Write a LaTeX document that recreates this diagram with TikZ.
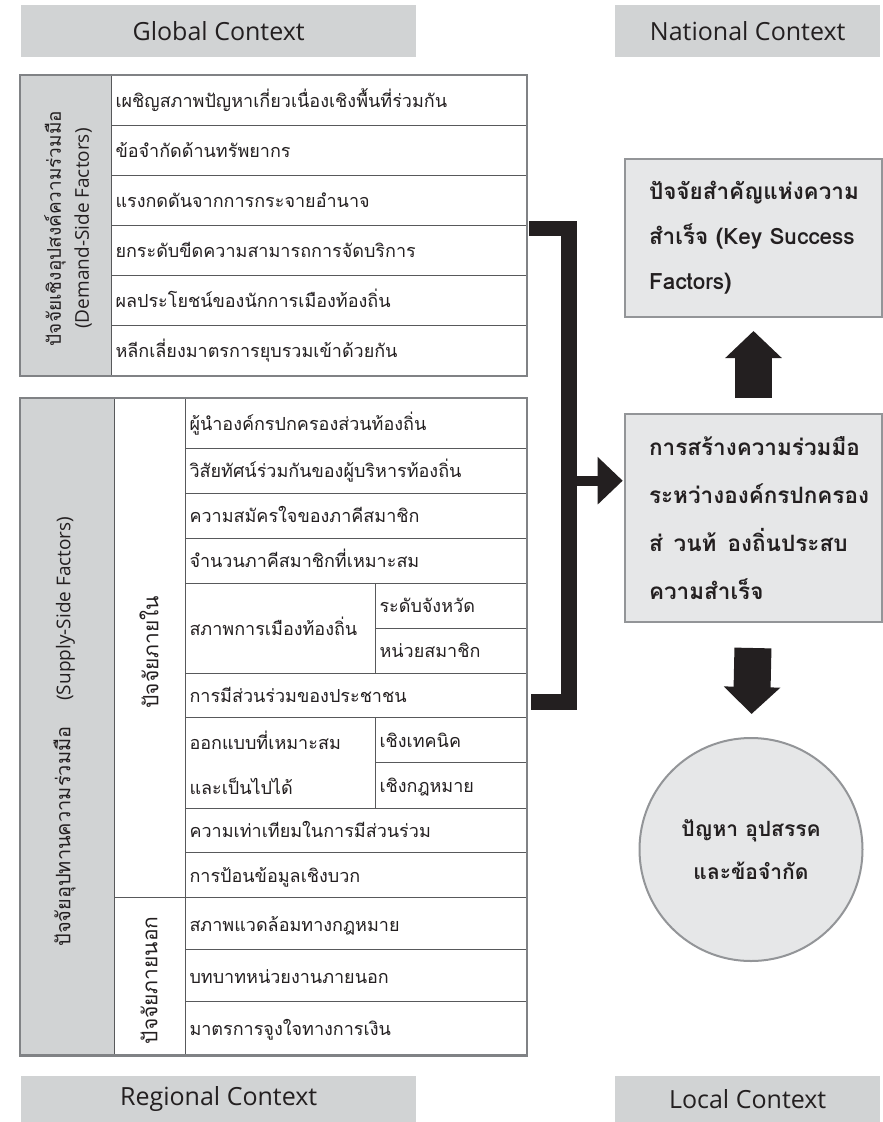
\documentclass[tikz,border=0pt]{standalone}
\usepackage{fontspec}
\setmainfont[Script=Thai]{Loma}
\newfontfamily\latinsans{Open Sans}
\usetikzlibrary{arrows.meta, calc}
\definecolor{ctxgray}{HTML}{D1D3D4}
\definecolor{boxgray}{HTML}{E6E7E8}
\definecolor{rimgray}{HTML}{939598}
\definecolor{framegray}{HTML}{808285}
\definecolor{rulegray}{HTML}{58595B}
\definecolor{ink}{HTML}{231F20}

\tikzset{
  ctxbox/.style={fill=ctxgray, anchor=north west, minimum width=#1, inner sep=0pt,
    text=ink, font=\latinsans\fontsize{25}{28}\selectfont},
  cell/.style={draw=rulegray, line width=1pt, fill=white, anchor=north west,
    inner xsep=4pt, inner ysep=0pt, align=left, text=ink,
    font=\fontsize{18}{20}\selectfont, text height=18pt, text depth=4pt},
  demrow/.style={cell, text width=407pt, minimum height=50pt},
  fullrow/.style={cell, text width=333pt, minimum height=#1},
  leftrow/.style={cell, text width=182pt, minimum height=#1},
  subrow/.style={cell, text width=143pt, minimum height=#1},
  sidecol/.style={draw=rulegray, line width=1pt, fill=#1, anchor=north west, inner sep=0pt},
  sidetext/.style={rotate=90, align=center, inner sep=0pt, text=ink},
  frame/.style={draw=framegray, line width=2.6pt},
  keybox/.style={draw=rimgray, line width=2pt, fill=boxgray, anchor=north west,
    text width=209pt, inner xsep=24pt, inner ysep=0pt, minimum height=#1, align=left, text=ink},
  bigarrow/.style={draw=ink, line width=37pt, -{Triangle[length=27pt, width=55pt]}},
  sidearrow/.style={draw=ink, line width=10pt, -{Triangle[length=25pt, width=46pt]}},
  bracket/.style={draw=ink, line width=15.5pt, line join=miter}
}

\begin{document}
\begin{tikzpicture}[x=1pt, y=-1pt]

\useasboundingbox (0,0) rectangle (883,1122);
\fill[white] (0,0) rectangle (883,1122);

% Context banners
\node[ctxbox=395pt, minimum height=52pt] (global) at (21,5) {Global Context};
\node[ctxbox=265pt, minimum height=52pt] (national) at (615,5) {National Context};
\node[ctxbox=395pt, minimum height=46pt] (regional) at (21,1076) {Regional Context};
\node[ctxbox=265pt, minimum height=46pt] (local) at (615,1076) {Local Context};

% === Demand side table ===
\node[sidecol=ctxgray, minimum width=91pt, minimum height=300pt] (dside) at (20,75) {};
\node[sidetext, font=\fontsize{19}{28}\selectfont] (dsidetxt) at ($(dside.center)+(2,3)$)
  {ปัจจัยเชิงอุปสงค์ความร่วมมือ\\{\latinsans\fontsize{19}{28}\selectfont(Demand-Side Factors)}};

\foreach \txt [count=\i] in {%
  เผชิญสภาพปัญหาเกี่ยวเนื่องเชิงพื้นที่ร่วมกัน,
  ข้อจำกัดด้านทรัพยากร,
  แรงกดดันจากการกระจายอำนาจ,
  ยกระดับขีดความสามารถการจัดบริการ,
  ผลประโยชน์ของนักการเมืองท้องถิ่น,
  หลีกเลี่ยงมาตรการยุบรวมเข้าด้วยกัน} {
  \node[demrow] (d\i) at (111,{75+50*(\i-1)}) {\txt};
}
\draw[frame] (dside.north west) rectangle (d6.south east);

% === Supply side table ===
\node[sidecol=ctxgray, minimum width=94pt, minimum height=656.3pt] (sside) at (20,398) {};
\node[sidecol=white, minimum width=71pt, minimum height=499.3pt] (inner) at (114,398) {};
\node[sidecol=white, minimum width=71pt, minimum height=157pt] (outer) at (114,897.3) {};
\node[sidetext, font=\fontsize{20}{22}\selectfont] (ssidetxt) at ($(sside.center)+(-3,5)$)
  {ปัจจัยอุปทานความร่วมมือ\hspace{26pt}{\latinsans\fontsize{19}{22}\selectfont(Supply-Side Factors)}};
\node[sidetext, font=\fontsize{21}{24}\selectfont] (innertxt) at ($(inner.center)+(-1,4)$) {ปัจจัยภายใน};
\node[sidetext, font=\fontsize{21}{24}\selectfont] (outertxt) at ($(outer.center)+(-1,4)$) {ปัจจัยภายนอก};

% internal factors
\foreach \y/\h/\txt [count=\i] in {%
  398/49.7/ผู้นำองค์กรปกครองส่วนท้องถิ่น,
  447.7/45/วิสัยทัศน์ร่วมกันของผู้บริหารท้องถิ่น,
  492.7/45/ความสมัครใจของภาคีสมาชิก,
  537.7/45/จำนวนภาคีสมาชิกที่เหมาะสม} {
  \node[fullrow={\h pt}] (s\i) at (185,\y) {\txt};
}
\node[leftrow=90pt] (s5) at (185,582.7) {สภาพการเมืองท้องถิ่น};
\node[subrow=45pt] (s5a) at (375,582.7) {ระดับจังหวัด};
\node[subrow=45pt] (s5b) at (375,627.7) {หน่วยสมาชิก};
\node[fullrow=44.3pt] (s6) at (185,672.7) {การมีส่วนร่วมของประชาชน};
\node[leftrow=90.7pt, text height=, text depth=, font=\fontsize{18}{45}\selectfont] (s7) at (185,717)
  {ออกแบบที่เหมาะสม\\และเป็นไปได้};
\node[subrow=45.3pt] (s7a) at (375,717) {เชิงเทคนิค};
\node[subrow=45.4pt] (s7b) at (375,762.3) {เชิงกฎหมาย};
\node[fullrow=44.6pt] (s8) at (185,807.7) {ความเท่าเทียมในการมีส่วนร่วม};
\node[fullrow=45pt] (s9) at (185,852.3) {การป้อนข้อมูลเชิงบวก};

% external factors
\foreach \y/\txt [count=\i] in {%
  897.3/สภาพแวดล้อมทางกฎหมาย,
  949.3/บทบาทหน่วยงานภายนอก,
  1001.3/มาตรการจูงใจทางการเงิน} {
  \node[fullrow=53pt] (e\i) at (185,\y) {\txt};
}
\draw[frame] (sside.north west) rectangle (e3.south east);

% === Right hand column ===
\node[keybox=158pt, font=\bfseries\fontsize{22.5}{45}\selectfont] (ksf) at (624,158)
  {ปัจจัยสำคัญแห่งความ\\สำเร็จ (Key Success\\Factors)};
\node[keybox=208pt, font=\bfseries\fontsize{22.5}{48}\selectfont] (mid) at (624,413)
  {การสร้างความร่วมมือ\\ระหว่างองค์กรปกครอง\\ส่\hspace{11pt}วนท้\hspace{11pt}องถิ่นประสบ\\ความสำเร็จ};
\node[circle, draw=rimgray, line width=2pt, fill=boxgray, minimum size=223pt,
      align=center, text=ink, font=\bfseries\fontsize{21}{43}\selectfont] (trouble)
  at (751,849.5) {ปัญหา อุปสรรค\\และข้อจำกัด};

% --- Bracket joining the factors ---
\coordinate (brtop) at (529,228.5);
\coordinate (brbot) at (531,702);
\coordinate (join) at (569,480.7);
\draw[bracket] (brtop) -- (569,228.5) -- (569,702) -- (brbot);
\draw[sidearrow, shorten >=1.3pt] (join) -- (join -| mid.west);

% --- Arrows to the outcome boxes ---
\draw[bigarrow, shorten <=15pt, shorten >=13pt] (mid.north) -- (ksf.south);
\draw[bigarrow, shorten <=25pt, shorten >=23pt] (mid.south) -- (trouble.north);

\end{tikzpicture}
\end{document}
